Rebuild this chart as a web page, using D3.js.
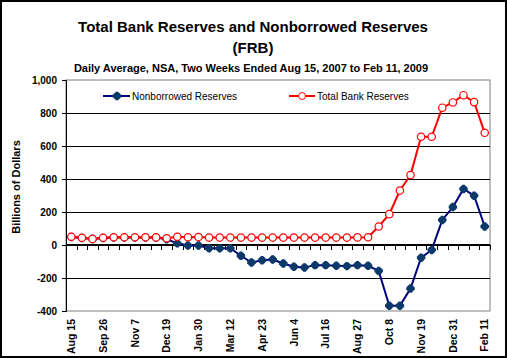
<!DOCTYPE html>
<html>
<head>
<meta charset="utf-8">
<script src="https://cdn.jsdelivr.net/npm/d3@7"></script>
<style>
  body { margin: 0; background: #fff; }
  svg { display: block; font-family: "Liberation Sans", Arial, sans-serif; }
</style>
</head>
<body>
<svg id="chart" width="507" height="358"></svg>
<script>
const dates = ["Aug 15", "Aug 29", "Sep 12", "Sep 26", "Oct 10", "Oct 24", "Nov 7", "Nov 21",
  "Dec 5", "Dec 19", "Jan 2", "Jan 16", "Jan 30", "Feb 13", "Feb 27", "Mar 12", "Mar 26",
  "Apr 9", "Apr 23", "May 7", "May 21", "Jun 4", "Jun 18", "Jul 2", "Jul 16", "Jul 30",
  "Aug 13", "Aug 27", "Sep 10", "Sep 24", "Oct 8", "Oct 22", "Nov 5", "Nov 19", "Dec 3",
  "Dec 17", "Dec 31", "Jan 14", "Jan 28", "Feb 11"];
const tickLabels = ["Aug 15", "Sep 26", "Nov 7", "Dec 19", "Jan 30", "Mar 12", "Apr 23",
  "Jun 4", "Jul 16", "Aug 27", "Oct 8", "Nov 19", "Dec 31", "Feb 11"];
const totalReserves = [50, 44, 37, 44, 47, 47, 47, 47, 46, 41, 50, 47, 48, 45, 45, 45, 45,
  45, 45, 45, 45, 45, 45, 45, 45, 45, 45, 46, 47, 112, 187, 330, 424, 656, 656, 832, 864,
  908, 866, 680];
const nonborrowed = [48, 43, 36, 43, 46, 46, 46, 46, 45, 35, 10, -3, -3, -20, -20, -20, -65,
  -106, -92, -88, -112, -132, -136, -122, -122, -126, -128, -122, -126, -157, -368, -368,
  -264, -77, -30, 152, 230, 340, 299, 112];
const yTicks = [-400, -200, 0, 200, 400, 600, 800, 1000];

const svg = d3.select("#chart");
const plotLeft = 66, plotRight = 490, plotTop = 80, plotBottom = 311;

svg.append("rect")
  .attr("x", 1).attr("y", 1).attr("width", 505).attr("height", 356)
  .attr("fill", "#fff").attr("stroke", "#000").attr("stroke-width", 2);

const x = d3.scaleBand().domain(d3.range(dates.length)).range([plotLeft, plotRight]);
const cx = (i) => x(i) + x.bandwidth() / 2;
const y = d3.scaleLinear().domain([-400, 1000]).range([plotBottom, plotTop]);

// titles
svg.append("text").attr("x", 253).attr("y", 32).attr("text-anchor", "middle")
  .attr("font-size", 15).attr("font-weight", "bold")
  .text("Total Bank Reserves and Nonborrowed Reserves");
svg.append("text").attr("x", 253).attr("y", 53).attr("text-anchor", "middle")
  .attr("font-size", 15).attr("font-weight", "bold").text("(FRB)");
svg.append("text").attr("x", 251).attr("y", 72).attr("text-anchor", "middle")
  .attr("font-size", 11).attr("font-weight", "bold")
  .text("Daily Average, NSA, Two Weeks Ended Aug 15, 2007 to Feb 11, 2009");

svg.append("text")
  .attr("transform", "translate(20,187) rotate(-90)")
  .attr("text-anchor", "middle").attr("font-size", 11).attr("font-weight", "bold")
  .text("Billions of Dollars");

// plot area border
svg.append("rect")
  .attr("x", plotLeft).attr("y", plotTop).attr("width", plotRight - plotLeft)
  .attr("height", plotBottom - plotTop)
  .attr("fill", "#fff").attr("stroke", "#808080").attr("stroke-width", 1);

// gridlines
svg.append("g")
  .selectAll("line")
  .data(yTicks.filter((d) => d !== 0 && d !== -400 && d !== 1000))
  .enter()
  .append("line")
  .attr("x1", plotLeft).attr("x2", plotRight)
  .attr("y1", (d) => Math.round(y(d)) + 0.5).attr("y2", (d) => Math.round(y(d)) + 0.5)
  .attr("stroke", "#000");

// y axis
const fmt = (d) => d3.format(",")(d).replace("\u2212", "-");
const yAxis = svg.append("g")
  .attr("transform", `translate(${plotLeft},0)`)
  .call(d3.axisLeft(y).tickValues(yTicks).tickSize(4).tickPadding(5).tickFormat(fmt));
yAxis.selectAll("text").attr("font-size", 10).attr("font-weight", "bold")
  .attr("font-family", "Liberation Sans, Arial, sans-serif").attr("fill", "#000");
yAxis.select(".domain").attr("stroke", "#000");

// zero category axis with ticks between categories
const zeroY = Math.round(y(0));
svg.append("line").attr("x1", plotLeft).attr("x2", plotRight)
  .attr("y1", zeroY).attr("y2", zeroY).attr("stroke", "#000").attr("stroke-width", 2);
svg.append("g")
  .selectAll("line")
  .data(d3.range(dates.length + 1))
  .enter()
  .append("line")
  .attr("x1", (i) => Math.round(plotLeft + i * x.step()) + 0.5)
  .attr("x2", (i) => Math.round(plotLeft + i * x.step()) + 0.5)
  .attr("y1", zeroY).attr("y2", zeroY + 5)
  .attr("stroke", "#000");

// x labels at bottom
const xAxis = svg.append("g")
  .attr("transform", `translate(0,${plotBottom})`)
  .call(d3.axisBottom(x)
    .tickValues(d3.range(dates.length).filter((i) => tickLabels.includes(dates[i])))
    .tickSize(0)
    .tickFormat((i) => dates[i]));
xAxis.select(".domain").remove();
xAxis.selectAll("text")
  .attr("font-size", 10.5).attr("font-weight", "bold")
  .attr("font-family", "Liberation Sans, Arial, sans-serif").attr("fill", "#000")
  .attr("text-anchor", "end")
  .attr("transform", "rotate(-90)")
  .attr("x", -8).attr("y", 0).attr("dy", "0.35em");

// series
const blueLine = "#000080", blueMark = "#0B3A6A", red = "#ff0000";

const drawStar = (sel) => {
  sel.append("path").attr("d", d3.symbol(d3.symbolCross, 40)()).attr("fill", blueMark);
  sel.append("circle").attr("r", 3.7).attr("fill", blueMark);
};

svg.append("path")
  .datum(nonborrowed)
  .attr("fill", "none").attr("stroke", blueLine).attr("stroke-width", 2)
  .attr("d", d3.line().x((_, i) => cx(i)).y((d) => y(d)));
svg.append("g")
  .selectAll("g")
  .data(nonborrowed)
  .enter()
  .append("g")
  .attr("transform", (d, i) => `translate(${cx(i)},${y(d)})`)
  .call(drawStar);

svg.append("path")
  .datum(totalReserves)
  .attr("fill", "none").attr("stroke", red).attr("stroke-width", 2)
  .attr("d", d3.line().x((_, i) => cx(i)).y((d) => y(d)));
svg.append("g")
  .selectAll("circle")
  .data(totalReserves)
  .enter()
  .append("circle")
  .attr("cx", (_, i) => cx(i)).attr("cy", (d) => y(d)).attr("r", 3.7)
  .attr("fill", "#fff").attr("stroke", red).attr("stroke-width", 1.2);

// legend
const leg1 = svg.append("g").attr("transform", "translate(103,96)");
leg1.append("line").attr("x1", 0).attr("x2", 27).attr("stroke", blueLine).attr("stroke-width", 2);
leg1.append("g").attr("transform", "translate(14,0)").call(drawStar);
leg1.append("text").attr("x", 29).attr("y", 4).attr("font-size", 10).text("Nonborrowed Reserves");

const leg2 = svg.append("g").attr("transform", "translate(289,96)");
leg2.append("line").attr("x1", 0).attr("x2", 26).attr("stroke", red).attr("stroke-width", 2);
leg2.append("circle").attr("cx", 13).attr("r", 3.5).attr("fill", "#fff").attr("stroke", red);
leg2.append("text").attr("x", 28).attr("y", 4).attr("font-size", 10).text("Total Bank Reserves");
</script>
</body>
</html>
